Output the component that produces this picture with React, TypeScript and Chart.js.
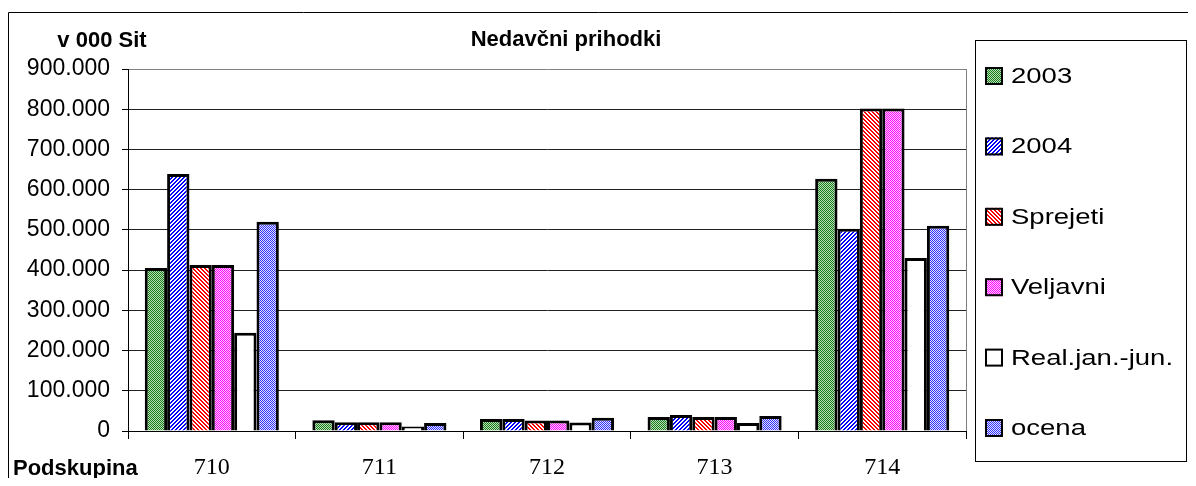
import React, { useEffect, useRef } from "react";
import { Chart, registerables } from "chart.js";

Chart.register(...registerables);

const categories = ["710", "711", "712", "713", "714"];
const seriesLabels = ["2003", "2004", "Sprejeti", "Veljavni", "Real.jan.-jun.", "ocena"];
const s2003 = [405000, 27000, 30000, 35000, 627000];
const s2004 = [639000, 22000, 30000, 40000, 503000];
const sSprejeti = [413000, 22000, 26000, 35000, 802000];
const sVeljavni = [413000, 22000, 26000, 35000, 802000];
const sReal = [244000, 11000, 21000, 20000, 430000];
const sOcena = [520000, 20000, 33000, 37000, 510000];
const yTicks = [0, 100000, 200000, 300000, 400000, 500000, 600000, 700000, 800000, 900000];

function makePattern(size: number, draw: (x: CanvasRenderingContext2D) => void) {
  const c = document.createElement("canvas");
  c.width = size;
  c.height = size;
  const x = c.getContext("2d")!;
  draw(x);
  return x.createPattern(c, "repeat")!;
}

function checker(a: string, b: string) {
  return makePattern(2, (x) => {
    x.fillStyle = b;
    x.fillRect(0, 0, 2, 2);
    x.fillStyle = a;
    x.fillRect(0, 0, 1, 1);
    x.fillRect(1, 1, 1, 1);
  });
}

function stripes(color: string, forward: boolean) {
  return makePattern(4, (x) => {
    x.fillStyle = "#ffffff";
    x.fillRect(0, 0, 4, 4);
    x.fillStyle = color;
    for (let i = 0; i < 4; i++) {
      for (let j = 0; j < 4; j++) {
        const v = forward ? (i + j) % 4 : (i - j + 4) % 4;
        if (v < 2) x.fillRect(i, j, 1, 1);
      }
    }
  });
}

export default function App() {
  const ref = useRef<HTMLCanvasElement | null>(null);

  useEffect(() => {
    if (!ref.current) return;
    const fills = [
      checker("#1a7f1a", "#b8dcb8"),
      stripes("#0000ff", true),
      stripes("#ff0000", false),
      checker("#ff00ff", "#ffd0ff"),
      "#ffffff",
      checker("#3030ff", "#e4e4ff"),
    ];
    const values = [s2003, s2004, sSprejeti, sVeljavni, sReal, sOcena];

    const decor = {
      id: "decor",
      afterDraw(chart: any) {
        const ctx = chart.ctx as CanvasRenderingContext2D;
        const a = chart.chartArea;
        ctx.save();
        // outer frame
        ctx.strokeStyle = "#000";
        ctx.lineWidth = 1;
        ctx.beginPath();
        ctx.moveTo(0.5, chart.height);
        ctx.lineTo(0.5, 4.5);
        ctx.lineTo(chart.width, 4.5);
        ctx.stroke();
        // right plot border
        ctx.strokeStyle = "#808080";
        ctx.beginPath();
        ctx.moveTo(Math.round(a.right) + 0.5, a.top);
        ctx.lineTo(Math.round(a.right) + 0.5, a.bottom);
        ctx.stroke();
        // texts
        ctx.fillStyle = "#000";
        ctx.textBaseline = "middle";
        ctx.textAlign = "center";
        ctx.font = "bold 22px 'Liberation Sans', Arial, sans-serif";
        ctx.fillText("Nedavčni prihodki", 558, 32);
        ctx.fillText("v 000 Sit", 94, 33);
        ctx.textAlign = "left";
        ctx.fillText("Podskupina", 5, 461);
        // legend
        ctx.strokeStyle = "#000";
        ctx.lineWidth = 1;
        ctx.strokeRect(967.5, 32.5, 211, 421);
        const ds = chart.data.datasets;
        ds.forEach((d: any, i: number) => {
          const cy = 68 + i * 70.4;
          ctx.fillStyle = d.backgroundColor;
          ctx.fillRect(977, cy - 9, 18, 18);
          ctx.lineWidth = 2;
          ctx.strokeStyle = "#000";
          ctx.strokeRect(978, cy - 8, 16, 16);
          ctx.save();
          ctx.translate(1003, cy + 1);
          ctx.scale(1.25, 1);
          ctx.fillStyle = "#000";
          ctx.font = "22px 'Liberation Sans', Arial, sans-serif";
          ctx.textAlign = "left";
          ctx.textBaseline = "middle";
          ctx.fillText(d.label, 0, 0);
          ctx.restore();
        });
        ctx.restore();
      },
    };

    const chart = new Chart(ref.current, {
      type: "bar",
      data: {
        labels: categories,
        datasets: seriesLabels.map((label, i) => ({
          label,
          data: values[i],
          backgroundColor: fills[i] as any,
          borderColor: "#000",
          borderWidth: 3,
          borderSkipped: "bottom",
          categoryPercentage: 0.8,
          barPercentage: 1.0,
        })),
      },
      options: {
        animation: false,
        responsive: true,
        maintainAspectRatio: false,
        layout: { padding: { top: 61, right: 222, bottom: 0, left: 0 } },
        plugins: {
          legend: { display: false },
          title: { display: false },
          tooltip: { enabled: false },
        },
        scales: {
          x: {
            afterFit: (s: any) => {
              s.height = 47;
            },
            grid: {
              offset: true,
              drawOnChartArea: false,
              tickLength: 8,
              tickColor: "#000",
              color: "#000",
            },
            border: { color: "#000", width: 1 },
            ticks: {
              color: "#000",
              padding: 14,
              font: { family: "'Liberation Serif', 'Times New Roman', serif", size: 24 },
            },
          },
          y: {
            min: 0,
            max: 900000,
            afterFit: (s: any) => {
              s.width = 120;
            },
            afterBuildTicks: (s: any) => {
              s.ticks = yTicks.map((v) => ({ value: v }));
            },
            grid: {
              color: (c: any) => (c.tick && c.tick.value === 900000 ? "#808080" : "#222"),
              tickColor: "#000",
              tickLength: 6,
              lineWidth: 1,
            },
            border: { color: "#000", width: 1 },
            ticks: {
              color: "#000",
              padding: 12,
              font: { family: "'Liberation Sans', Arial, sans-serif", size: 23 },
              callback: (v: any) => (v === 0 ? "0" : `${Math.round(Number(v) / 1000)}.000`),
            },
          },
        },
      },
      plugins: [decor],
    });
    return () => chart.destroy();
  }, []);

  return (
    <div style={{ position: "relative", width: "1180px", height: "470px" }}>
      <canvas ref={ref} />
    </div>
  );
}
